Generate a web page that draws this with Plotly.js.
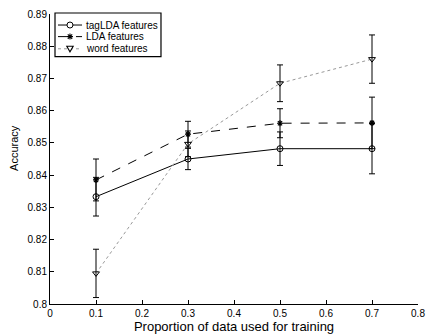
<!DOCTYPE html>
<html><head><meta charset="utf-8">
<script src="https://cdn.plot.ly/plotly-3.0.1.min.js"></script>
<style>html,body{margin:0;padding:0;background:#fff}</style>
</head><body><div id="chart" style="width:428px;height:335px"></div>
<script>
var proportions = [0.1, 0.3, 0.5, 0.7];
var tagLDA = [0.8333, 0.8450, 0.8482, 0.8482];
var tagLDAErr = [0.0060, 0.0033, 0.0052, 0.0078];
var lda = [0.8385, 0.8527, 0.8561, 0.8562];
var ldaErr = [0.0065, 0.0040, 0.0045, 0.0080];
var word = [0.8095, 0.8497, 0.8685, 0.8760];
var wordErr = [0.0075, 0.0040, 0.0057, 0.0075];
var seriesNames = ["tagLDA features", "LDA features", "word features"];
var xTicks = [0, 0.1, 0.2, 0.3, 0.4, 0.5, 0.6, 0.7, 0.8];
var xTickText = ["0", "0.1", "0.2", "0.3", "0.4", "0.5", "0.6", "0.7", "0.8"];
var yTicks = [0.8, 0.81, 0.82, 0.83, 0.84, 0.85, 0.86, 0.87, 0.88, 0.89];
var yTickText = ["0.8", "0.81", "0.82", "0.83", "0.84", "0.85", "0.86", "0.87", "0.88", "0.89"];

var FONT = 'Liberation Sans, Arial, sans-serif';
var errStyle = function(arr){ return {type:'data', array:arr, visible:true, color:'#000', thickness:1, width:3}; };
var traces = [
  {x:proportions, y:tagLDA, name:seriesNames[0], mode:'lines+markers', error_y:errStyle(tagLDAErr),
   line:{color:'#000', width:1, dash:'solid'}, marker:{symbol:'circle-open', size:6, color:'#000', line:{width:1}}},
  {x:proportions, y:lda, name:seriesNames[1], mode:'lines+markers', error_y:errStyle(ldaErr),
   line:{color:'#000', width:1, dash:'dash'}, marker:{symbol:'asterisk-open', size:5, color:'#000', line:{width:1.2}}},
  {x:proportions, y:word, name:seriesNames[2], mode:'lines+markers', error_y:errStyle(wordErr),
   line:{color:'#999', width:1, dash:'dot'}, marker:{symbol:'triangle-down-open', size:6, color:'#000', line:{width:1}}}
];

// Manual compact legend (MATLAB style), in plot-fraction coordinates
var legX0 = 0.0136, legX1 = 0.3016, legY0 = 0.853, legY1 = 1.0034;
var rowY = [0.962, 0.922, 0.880];
var sampleX0 = 0.0217, sampleX1 = 0.087, markX = 0.0543, textX = 0.092;
var sampleDash = ['solid', 'dash', 'dot'];
var sampleColor = ['#000', '#000', '#999'];
var markerPaths = [
  null,
  'M-3,0L3,0M0,-3L0,3M-2.2,-2.2L2.2,2.2M-2.2,2.2L2.2,-2.2',
  'M-3.2,2.6L3.2,2.6L0,-3Z'
];
var shapes = [{type:'rect', xref:'paper', yref:'paper', x0:legX0, x1:legX1, y0:legY0, y1:legY1,
               line:{color:'#000', width:1.2}, fillcolor:'#fff', layer:'above'}];
var annotations = [];
for (var i = 0; i < 3; i++) {
  shapes.push({type:'line', xref:'paper', yref:'paper', x0:sampleX0, x1:sampleX1, y0:rowY[i], y1:rowY[i],
               line:{color:sampleColor[i], width:1, dash:sampleDash[i]}, layer:'above'});
  if (i === 0) {
    shapes.push({type:'circle', xref:'paper', yref:'paper', xsizemode:'pixel', ysizemode:'pixel',
                 xanchor:markX, yanchor:rowY[i], x0:-3, x1:3, y0:-3, y1:3,
                 line:{color:'#000', width:1}, fillcolor:'#fff', layer:'above'});
  } else {
    shapes.push({type:'path', xref:'paper', yref:'paper', xsizemode:'pixel', ysizemode:'pixel',
                 xanchor:markX, yanchor:rowY[i], path:markerPaths[i],
                 line:{color:'#000', width:1.1}, fillcolor: i === 2 ? '#fff' : 'rgba(0,0,0,0)', layer:'above'});
  }
  annotations.push({xref:'paper', yref:'paper', x:textX, y:rowY[i], xanchor:'left', yanchor:'middle',
                    text:seriesNames[i], showarrow:false, font:{family:FONT, size:10, color:'#000'}});
}
annotations.push({xref:'paper', yref:'paper', x:-0.098, y:0.538, xanchor:'center', yanchor:'middle',
                  text:'Accuracy', textangle:-90, showarrow:false, font:{family:FONT, size:11, color:'#000'}});

var layout = {
  width:428, height:335,
  margin:{l:50, r:10, t:14, b:31},
  paper_bgcolor:'#fff', plot_bgcolor:'#fff',
  font:{family:FONT, size:10, color:'#000'},
  showlegend:false,
  shapes:shapes, annotations:annotations,
  xaxis:{range:[0,0.8], tickvals:xTicks, ticktext:xTickText, ticks:'inside', ticklen:4, tickcolor:'#000',
         showline:true, linecolor:'#000', linewidth:1, showgrid:false, zeroline:false, mirror:false,
         tickfont:{family:FONT, size:10, color:'#000'},
         title:{text:'Proportion of data used for training', font:{family:FONT, size:13, color:'#000'}, standoff:1}},
  yaxis:{range:[0.8,0.89], tickvals:yTicks, ticktext:yTickText, ticks:'inside', ticklen:4, tickcolor:'#000',
         showline:true, linecolor:'#000', linewidth:1, showgrid:false, zeroline:false, mirror:false,
         tickfont:{family:FONT, size:10, color:'#000'}}
};
Plotly.newPlot('chart', traces, layout, {staticPlot:true, displayModeBar:false});
</script></body></html>
